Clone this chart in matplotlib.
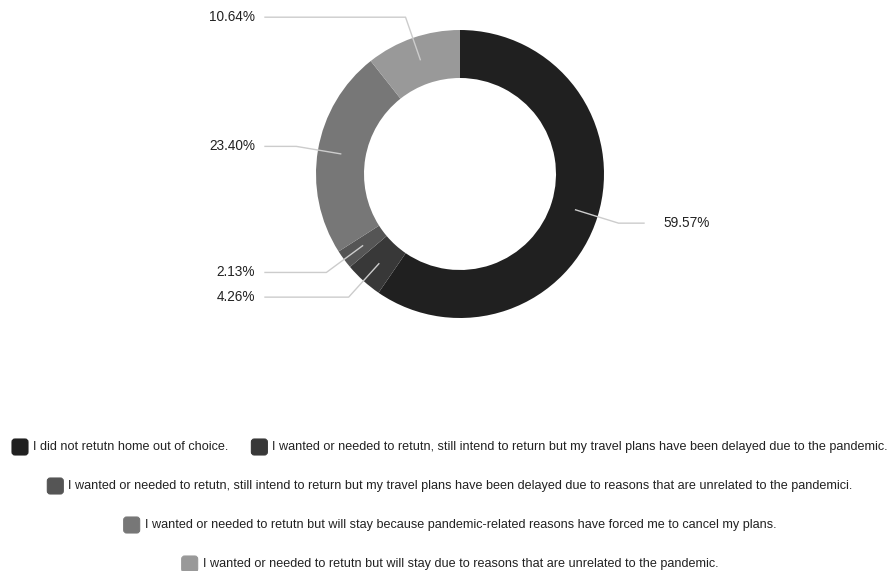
import matplotlib
matplotlib.use("Agg")
import matplotlib.pyplot as plt
from matplotlib.patches import FancyBboxPatch
import numpy as np

categories = [
    "I did not retutn home out of choice.",
    "I wanted or needed to retutn, still intend to return but my travel plans have been delayed due to the pandemic.",
    "I wanted or needed to retutn, still intend to return but my travel plans have been delayed due to reasons that are unrelated to the pandemici.",
    "I wanted or needed to retutn but will stay because pandemic-related reasons have forced me to cancel my plans.",
    "I wanted or needed to retutn but will stay due to reasons that are unrelated to the pandemic.",
]
values = [59.57, 4.26, 2.13, 23.40, 10.64]
labels = ["59.57%", "4.26%", "2.13%", "23.40%", "10.64%"]
colors = ["#202020", "#383838", "#555555", "#777777", "#999999"]

W, H = 891, 571
plt.rcParams['font.family'] = ['Liberation Sans', 'DejaVu Sans']
fig = plt.figure(figsize=(W / 100, H / 100), dpi=100)
ax = fig.add_axes([0, 0, 1, 1])
ax.set_xlim(0, W)
ax.set_ylim(0, H)
ax.axis("off")

def Y(y):
    return H - y

cx, cy = 460, 174
R, r_in = 144, 96
wedges, _ = ax.pie(values, colors=colors, startangle=90, counterclock=False,
                   radius=R, center=(cx, Y(cy)),
                   wedgeprops=dict(width=R - r_in, edgecolor="none"))
ax.set_xlim(0, W)
ax.set_ylim(0, H)
ax.set_aspect("auto")

line_color = "#cccccc"
text_color = "#222222"
fs = 9.8
for w, lab in zip(wedges, labels):
    ang = np.deg2rad((w.theta1 + w.theta2) / 2)
    dx, dy = np.cos(ang), np.sin(ang)
    p0 = (cx + 121 * dx, Y(cy) + 121 * dy)
    p1 = (cx + 166 * dx, Y(cy) + 166 * dy)
    if dx >= 0:
        xe = 644
        ax.plot([p0[0], p1[0], xe], [p0[1], p1[1], p1[1]], color=line_color, lw=1.0, zorder=3)
        ax.text(xe + 19, p1[1], lab, ha="left", va="center", fontsize=fs, color=text_color)
    else:
        xe = 265
        ax.plot([p0[0], p1[0], xe], [p0[1], p1[1], p1[1]], color=line_color, lw=1.0, zorder=3)
        ax.text(xe - 10, p1[1], lab, ha="right", va="center", fontsize=fs, color=text_color)

# legend
lfs = 9.05
rows = [[0, 1], [2], [3], [4]]
row_y = [447, 486, 525, 564]
fig.canvas.draw()
renderer = fig.canvas.get_renderer()
msize, mgap, igap = 16, 5, 23
for row, yy in zip(rows, row_y):
    widths = []
    for i in row:
        t = ax.text(0, 0, categories[i], fontsize=lfs)
        widths.append(t.get_window_extent(renderer).width)
        t.remove()
    total = sum(msize + mgap + wd for wd in widths) + igap * (len(row) - 1)
    x = 450 - total / 2
    for i, wd in zip(row, widths):
        ax.add_patch(FancyBboxPatch((x + 1.5, Y(yy) - msize / 2 + 1.5), msize - 3, msize - 3,
                                    boxstyle="round,pad=1.5,rounding_size=3",
                                    facecolor=colors[i], edgecolor=colors[i], lw=0.8))
        ax.text(x + msize + mgap, Y(yy), categories[i], fontsize=lfs, color=text_color,
                ha="left", va="center")
        x += msize + mgap + wd + igap

fig.savefig("out.png", dpi=100)
